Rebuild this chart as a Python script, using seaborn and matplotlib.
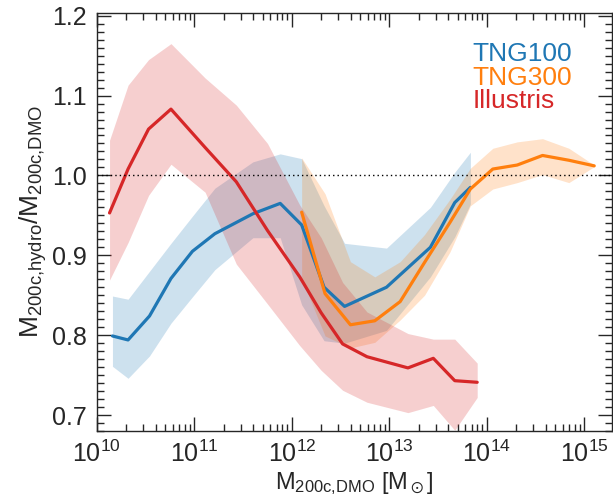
import numpy as np
import seaborn as sns
import matplotlib
matplotlib.use("Agg")
import matplotlib.pyplot as plt
from matplotlib.ticker import LogLocator, MultipleLocator, NullFormatter

# --- data (log10 halo mass, ratio median and 16-84 band) ---
tng100_logm = [10.16, 10.32, 10.54, 10.76, 10.98, 11.21, 11.60, 11.88, 12.10, 12.33, 12.54, 12.97, 13.42, 13.67, 13.83]
tng100_med = [0.799, 0.794, 0.824, 0.871, 0.905, 0.927, 0.952, 0.965, 0.938, 0.860, 0.836, 0.860, 0.910, 0.966, 0.985]
tng100_hi = [0.849, 0.845, 0.880, 0.915, 0.949, 0.984, 1.017, 1.027, 1.021, 0.962, 0.915, 0.909, 0.960, 1.004, 1.029]
tng100_lo = [0.761, 0.746, 0.774, 0.815, 0.848, 0.882, 0.922, 0.922, 0.838, 0.793, 0.790, 0.806, 0.873, 0.923, 0.964]

tng300_logm = [12.10, 12.34, 12.60, 12.85, 13.11, 13.36, 13.62, 13.83, 14.06, 14.31, 14.57, 14.84, 15.10]
tng300_med = [0.954, 0.852, 0.813, 0.818, 0.842, 0.891, 0.941, 0.983, 1.008, 1.013, 1.025, 1.019, 1.012]
tng300_hi = [1.022, 0.977, 0.892, 0.873, 0.892, 0.926, 0.970, 1.009, 1.034, 1.042, 1.046, 1.034, 1.013]
tng300_lo = [0.871, 0.799, 0.784, 0.791, 0.819, 0.850, 0.904, 0.962, 0.983, 0.991, 1.001, 0.991, 1.011]

illustris_logm = [10.13, 10.32, 10.53, 10.76, 11.11, 11.43, 11.75, 12.08, 12.30, 12.52, 12.77, 13.19, 13.45, 13.67, 13.90]
illustris_med = [0.953, 1.008, 1.058, 1.083, 1.035, 0.992, 0.931, 0.873, 0.828, 0.789, 0.773, 0.759, 0.771, 0.743, 0.741]
illustris_hi = [1.044, 1.113, 1.145, 1.165, 1.122, 1.088, 1.040, 0.963, 0.922, 0.866, 0.829, 0.802, 0.795, 0.795, 0.765]
illustris_lo = [0.869, 0.916, 0.975, 1.014, 0.979, 0.889, 0.839, 0.787, 0.756, 0.731, 0.716, 0.703, 0.712, 0.681, 0.722]

names = ["TNG100", "TNG300", "Illustris"]
colours = ["#1f77b4", "#ff7f0e", "#d62728"]

sns.set_style("ticks")
plt.rcParams.update({
    "font.family": ["Liberation Sans", "DejaVu Sans"],
    "mathtext.fontset": "custom",
    "mathtext.rm": "Liberation Sans",
    "mathtext.it": "Liberation Sans:italic",
    "mathtext.default": "regular",
    "axes.linewidth": 1.0,
})

fig = plt.figure(figsize=(6.13, 5.0), dpi=100)
ax = fig.add_axes([0.158, 0.138, 0.840, 0.837])

series = [
    (tng100_logm, tng100_med, tng100_lo, tng100_hi),
    (tng300_logm, tng300_med, tng300_lo, tng300_hi),
    (illustris_logm, illustris_med, illustris_lo, illustris_hi),
]
for (lm, med, lo, hi), c in zip(series, colours):
    m = 10 ** np.array(lm)
    ax.fill_between(m, lo, hi, color=c, alpha=0.22, linewidth=0)
for (lm, med, lo, hi), c in zip(series, colours):
    m = 10 ** np.array(lm)
    sns.lineplot(x=m, y=med, color=c, lw=2.3, ax=ax, legend=False)

ax.axhline(1.0, color="black", lw=1.0, ls=(0, (1, 2.2)))

ax.set_xscale("log")
ax.set_xlim(1e10, 10 ** 15.28)
ax.set_ylim(0.68, 1.204)
ax.xaxis.set_major_locator(LogLocator(base=10, numticks=10))
ax.xaxis.set_minor_locator(LogLocator(base=10, subs=np.arange(2, 10), numticks=20))
ax.xaxis.set_minor_formatter(NullFormatter())
ax.yaxis.set_major_locator(MultipleLocator(0.1))
ax.yaxis.set_minor_locator(MultipleLocator(0.01))
ax.yaxis.set_major_formatter(lambda v, p: f"{v:.1f}")
ax.tick_params(which="both", direction="in", top=True, right=True, width=1.0)
ax.tick_params(which="major", length=10, labelsize=18, pad=7)
ax.tick_params(which="minor", length=5)

ax.set_xlabel(r"$M_{200c{,}DMO}$ [$M_\odot$]", fontsize=17, labelpad=2)
ax.set_ylabel(r"$M_{200c{,}hydro}/M_{200c{,}DMO}$", fontsize=19, labelpad=2)

for i, (n, c) in enumerate(zip(names, colours)):
    ax.text(0.730, 0.884 - i * 0.0565, n, color=c, fontsize=19,
            transform=ax.transAxes, va="baseline", ha="left")

sns.despine(ax=ax, top=False, right=False)
fig.savefig("out.png", dpi=100)
